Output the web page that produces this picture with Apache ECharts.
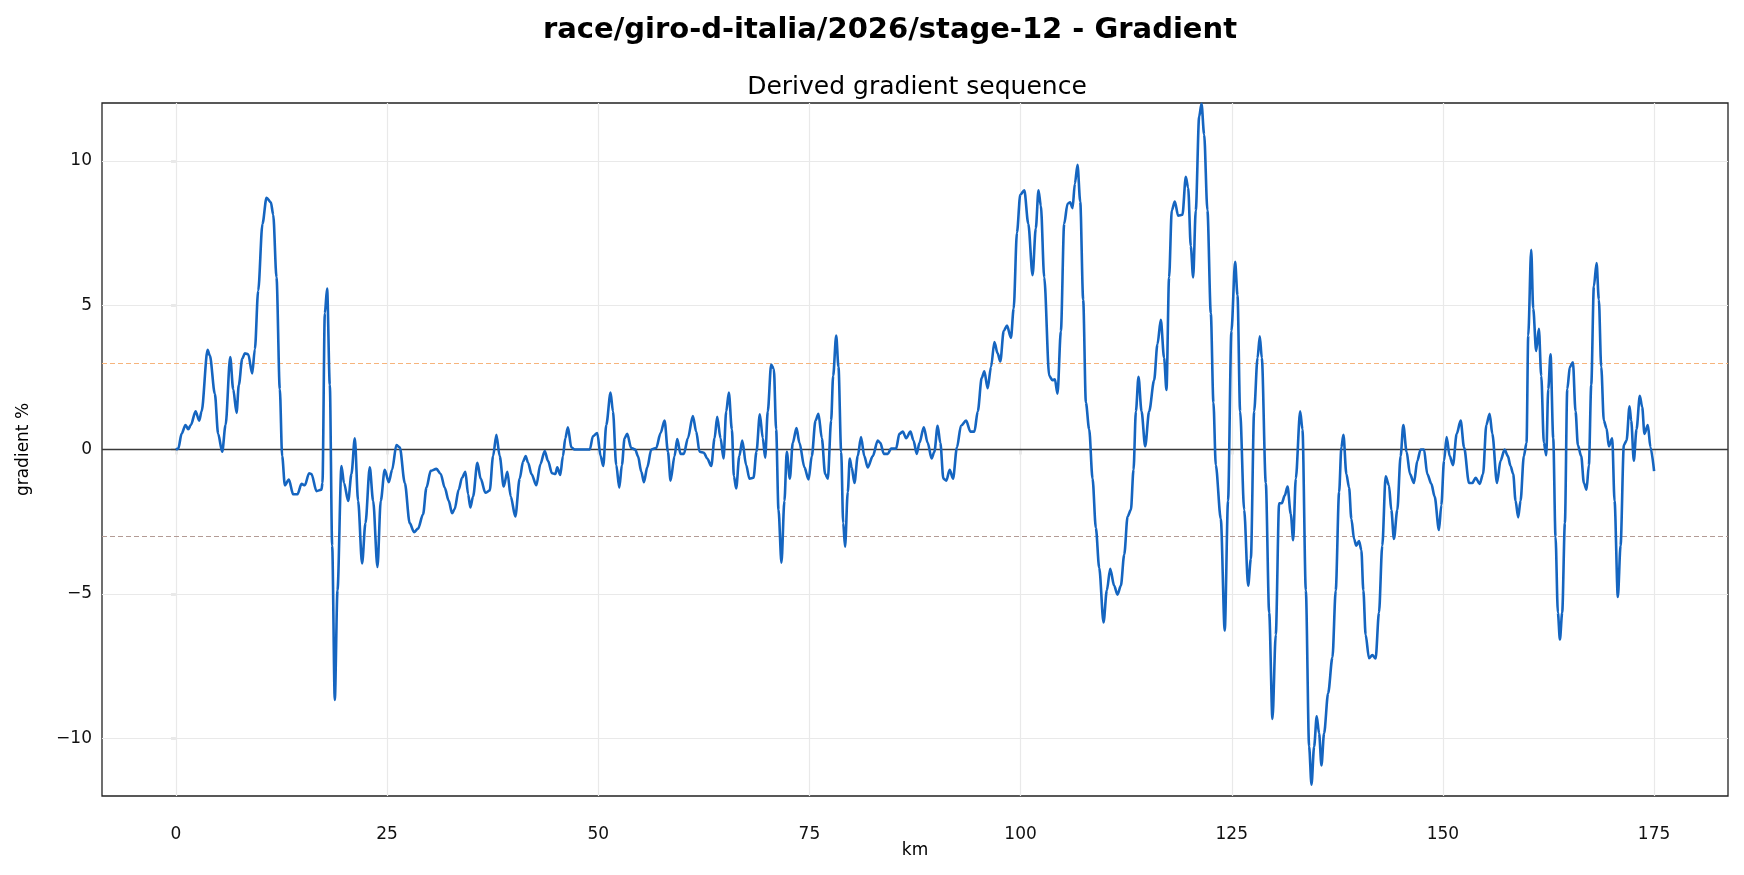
<!DOCTYPE html>
<html>
<head>
<meta charset="utf-8">
<script src="https://cdn.jsdelivr.net/npm/echarts/dist/echarts.min.js"></script>
<style>
	html, body { margin: 0; padding: 0; background: #fff; }
	#chart { width: 1744px; height: 875px; }
</style>
</head>
<body>
<div id="chart"></div>
<script>
var kmValues = [
	0, 0.28, 0.67, 1.14, 1.46, 1.77, 2.33, 2.76, 3.04, 3.75, 4.02, 4.61, 5.0, 5.48, 5.88, 6.43, 6.78, 7.18, 7.45, 7.85,
	8.16, 8.56, 9.03, 9.35, 9.74, 10.25, 10.73, 11.24, 11.52, 11.91, 12.30, 12.58, 12.90, 13.37, 13.88, 14.39, 14.87, 15.26, 15.77, 16.05,
	16.64, 17.23, 17.35, 17.63, 17.90, 18.22, 18.5, 18.81, 19.13, 19.6, 19.9, 20.4, 20.78, 21.18, 21.57, 22.04, 22.44, 22.95, 23.35, 23.86,
	24.25, 24.72, 25.2, 25.6, 26.1, 26.5, 27.1, 27.68, 28.19, 28.67, 29.26, 29.66, 30.17, 30.84, 31.35, 31.82, 32.3, 32.69, 33.0, 33.48,
	33.87, 34.27, 34.59, 34.86, 35.18, 35.69, 36.08, 36.64, 37.15, 37.55, 37.94, 38.33, 38.81, 39.24, 39.64, 40.18, 40.70, 41.1, 41.4, 41.7,
	42.1, 42.67, 43.15, 43.66, 44.05, 44.52, 44.92, 45.15, 45.5, 45.82, 46.1, 46.41, 46.81, 47.2, 49.0, 49.37, 49.88, 50.28, 50.59, 50.95,
	51.46, 51.74, 52.13, 52.49, 52.8, 53.12, 53.43, 53.9, 54.38, 54.7, 55.1, 55.41, 55.8, 56.28, 56.86, 57.38, 57.85, 58.25, 58.56, 59.03,
	59.35, 59.74, 60.14, 60.61, 61.2, 61.6, 61.99, 62.5, 62.9, 63.38, 63.77, 64.08, 64.48, 64.83, 65.15, 65.46, 65.82, 66.06, 66.33, 66.7,
	67.05, 67.51, 67.9, 68.38, 68.73, 69.13, 69.48, 69.76, 70.07, 70.47, 70.79, 71.06, 71.34, 71.69, 72.04, 72.32, 72.68, 73.03, 73.47, 73.82,
	74.41, 74.9, 75.28, 75.72, 76.07, 76.47, 76.86, 77.18, 77.57, 77.81, 78.17, 78.44, 78.76, 79.0, 79.22, 79.54, 79.78, 80.0, 80.33, 80.72,
	81.11, 81.5, 81.9, 82.5, 83.09, 83.4, 83.8, 84.28, 84.67, 85.26, 85.65, 86.05, 86.45, 86.96, 87.32, 87.71, 88.03, 88.54, 89.0, 89.47,
	89.79, 90.18, 90.5, 90.86, 91.21, 91.6, 92.0, 92.47, 92.94, 93.55, 94.06, 94.53, 94.93, 95.4, 95.71, 96.1, 96.5, 96.9, 97.28, 97.6,
	98.0, 98.39, 98.86, 99.18, 99.57, 99.96, 100.44, 100.91, 101.42, 101.8, 102.12, 102.4, 102.8, 103.39, 103.78, 104.06, 104.37, 104.77, 105.16, 105.56,
	105.87, 106.15, 106.43, 106.74, 107.06, 107.41, 107.73, 108.12, 108.52, 108.91, 109.31, 109.82, 110.21, 110.61, 111.08, 111.47, 111.87, 112.27, 112.67, 113.06,
	113.37, 113.65, 113.96, 114.32, 114.75, 115.22, 115.81, 116.2, 116.6, 116.99, 117.27, 117.58, 117.9, 118.26, 118.65, 119.16, 119.56, 119.84, 120.15, 120.43,
	120.74, 121.14, 121.42, 121.73, 122.12, 122.52, 122.83, 123.11, 123.7, 124.17, 124.56, 124.96, 125.4, 125.68, 125.99, 126.47, 126.94, 127.26, 127.65, 128.05,
	128.32, 128.56, 129.03, 129.43, 129.82, 130.21, 130.61, 130.92, 131.28, 131.6, 131.99, 132.27, 132.58, 133.1, 133.37, 133.77, 134.16, 134.44, 134.75, 135.06,
	135.34, 135.62, 135.93, 136.41, 136.92, 137.31, 137.71, 137.98, 138.22, 138.57, 138.89, 139.16, 139.48, 139.75, 140.07, 140.34, 140.58, 140.85, 141.25, 141.64,
	142.03, 142.43, 142.82, 143.22, 143.61, 143.89, 144.2, 144.6, 144.99, 145.31, 145.7, 146.1, 146.57, 146.97, 147.36, 147.76, 148.15, 148.63, 149.02, 149.53,
	149.81, 150.13, 150.44, 150.8, 151.19, 151.63, 152.1, 152.5, 153.09, 153.48, 153.88, 154.35, 154.75, 155.14, 155.53, 155.85, 156.4, 156.82, 157.3, 157.69,
	158.0, 158.32, 158.6, 158.91, 159.19, 159.58, 159.9, 160.1, 160.45, 160.69, 161.04, 161.36, 161.64, 161.95, 162.23, 162.47, 162.74, 163.06, 163.33, 163.61,
	163.85, 164.12, 164.44, 164.72, 165.03, 165.39, 165.7, 165.98, 166.37, 166.69, 167.0, 167.28, 167.56, 167.87, 168.19, 168.46, 168.74, 169.05, 169.37, 169.64,
	170.04, 170.32, 170.71, 171.03, 171.42, 171.74, 172.09, 172.29, 172.6, 172.92, 173.31, 173.59, 173.86, 174.26, 174.57, 175.0
];
var gradientValues = [
	0, 0.03, 0.54, 0.85, 0.70, 0.85, 1.32, 1.0, 1.32, 3.45, 3.25, 1.93, 0.54, -0.08, 0.85, 3.2, 2.09, 1.27, 2.24, 3.14,
	3.33, 3.30, 2.63, 3.48, 5.5, 7.82, 8.72, 8.56, 8.13, 5.96, 2.09, -0.23, -1.24, -1.04, -1.55, -1.55, -1.19, -1.24, -0.82, -0.85,
	-1.44, -1.39, -1.16, 4.72, 5.57, 2.24, -3.33, -8.67, -4.88, -0.57, -1.16, -1.78, -0.85, 0.39, -1.78, -3.95, -2.55, -0.62, -1.78, -4.07,
	-1.78, -0.70, -1.13, -0.70, 0.15, 0.08, -1.16, -2.55, -2.86, -2.74, -2.24, -1.32, -0.74, -0.67, -0.85, -1.32, -1.78, -2.21, -2.06, -1.39,
	-0.98, -0.77, -1.55, -2.01, -1.63, -0.46, -1.01, -1.50, -1.42, -0.23, 0.51, -0.23, -1.28, -0.77, -1.63, -2.32, -1.01, -0.42, -0.23, -0.46,
	-0.85, -1.24, -0.51, -0.05, -0.39, -0.82, -0.85, -0.62, -0.88, -0.23, 0.39, 0.77, 0.08, 0, 0, 0.46, 0.57, -0.23, -0.57, 0.85,
	1.97, 1.32, -0.54, -1.32, -0.54, 0.39, 0.54, 0.05, 0, -0.23, -0.77, -1.13, -0.62, 0, 0.05, 0.57, 1.0, -0.08, -1.08, -0.23,
	0.36, -0.15, -0.15, 0.39, 1.16, 0.62, -0.08, -0.11, -0.31, -0.57, 0.39, 1.13, 0.39, -0.31, 1.32, 1.97, 0.70, -0.93, -1.35, -0.23,
	0.31, -0.54, -1.01, -0.98, -0.08, 1.22, 0.39, -0.28, 1.32, 2.94, 2.79, 0.70, -2.09, -3.92, -1.78, -0.08, -1.01, 0.23, 0.74, 0.23,
	-0.62, -1.04, -0.23, 1.0, 1.24, 0.39, -0.85, -1.01, 1.0, 2.55, 3.95, 2.86, -0.08, -2.55, -3.37, -1.47, -0.31, -0.62, -1.16, -0.23,
	0.43, -0.23, -0.62, -0.23, 0.31, 0.23, -0.15, -0.15, 0.03, 0.03, 0.54, 0.62, 0.39, 0.62, 0.31, -0.15, 0.23, 0.77, 0.23, -0.31,
	-0.08, 0.82, 0.23, -1.01, -1.08, -0.70, -1.01, 0.08, 0.82, 1.0, 0.62, 0.62, 1.32, 2.48, 2.71, 2.12, 2.86, 3.72, 3.33, 3.05,
	4.10, 4.29, 3.87, 4.88, 7.51, 8.82, 8.98, 7.82, 6.04, 7.66, 8.98, 8.44, 5.96, 2.55, 2.40, 2.43, 1.93, 4.10, 7.82, 8.51,
	8.56, 8.36, 9.21, 9.86, 8.59, 5.19, 1.63, 0.70, -1.01, -2.71, -4.10, -5.99, -4.88, -4.13, -4.72, -5.03, -4.72, -3.64, -2.32, -2.09,
	-0.70, 1.32, 2.52, 1.32, 0.11, 1.32, 2.40, 3.64, 4.49, 3.17, 2.06, 5.96, 8.28, 8.59, 8.10, 8.13, 9.44, 9.06, 7.04, 5.96,
	8.28, 11.53, 11.97, 10.91, 8.28, 4.72, 1.63, -0.54, -2.4, -6.27, -1.78, 4.10, 6.50, 5.34, 1.32, -2.09, -4.72, -3.79, 1.32, 3.17,
	3.92, 3.17, -1.16, -5.65, -9.33, -6.42, -1.86, -1.86, -1.59, -1.28, -2.24, -3.14, -1.01, 1.32, 0.70, -4.88, -10.29, -11.61, -10.29, -9.24,
	-9.83, -10.94, -9.83, -8.44, -7.20, -4.88, -1.47, 0.08, 0.51, -0.85, -1.32, -2.40, -3.10, -3.33, -3.17, -3.48, -4.88, -6.42, -7.23, -7.12,
	-7.24, -5.65, -3.33, -0.93, -1.24, -2.09, -3.10, -2.09, -0.23, 0.85, -0.08, -0.85, -1.16, -0.39, 0, 0, -0.85, -1.19, -1.63, -2.79,
	-1.93, -0.39, 0.43, -0.23, -0.54, 0.54, 1.0, 0.08, -1.16, -1.16, -0.98, -1.19, -0.85, 0.85, 1.24, 0.54, -1.16, -0.39, 0, -0.23,
	-0.57, -0.85, -1.78, -2.35, -1.78, -0.23, 0.23, 3.95, 6.92, 4.88, 3.41, 4.18, 2.55, 0.23, -0.20, 2.09, 3.30, 0.39, -3.02, -5.65,
	-6.58, -5.65, -2.55, 2.09, 2.86, 3.02, 1.32, 0.15, -0.23, -1.16, -1.39, -0.54, 2.24, 5.65, 6.46, 5.19, 2.86, 1.0, 0.73, 0.11,
	0.39, -1.78, -5.11, -3.33, 0.15, 0.31, 1.50, 1.0, -0.39, 0.70, 1.86, 1.47, 0.54, 0.85, 0.08, -0.75
];
var xTicks = [0, 25, 50, 75, 100, 125, 150, 175];
var yTicks = [-10, -5, 0, 5, 10];
var refLevels = [3, 0, -3];

var chartTitle = 'race/giro-d-italia/2026/stage-12 - Gradient';
var subTitle = 'Derived gradient sequence';

var font = 'DejaVu Sans';
var points = kmValues.map(function (km, i) { return [km, gradientValues[i]]; });

var gridLines = xTicks.map(function (v) { return { xAxis: v }; })
	.concat(yTicks.filter(function (v) { return v !== 0; }).map(function (v) { return { yAxis: v }; }));

var refStyles = {
	'3': { color: '#f6b47c', width: 1.2, type: [5, 3] },
	'0': { color: '#3a3a3a', width: 1.3, type: 'solid' },
	'-3': { color: '#b39b95', width: 1.2, type: [5, 3] }
};
var refLines = refLevels.map(function (v) {
	return { yAxis: v, lineStyle: refStyles[String(v)] };
});

var chart = echarts.init(document.getElementById('chart'));
chart.setOption({
	animation: false,
	backgroundColor: '#fff',
	title: [{
		text: chartTitle,
		left: 885,
		top: 11,
		textAlign: 'center',
		textStyle: { fontFamily: font, fontWeight: 'bold', fontSize: 29, color: '#000' }
	}, {
		text: subTitle,
		left: 912,
		top: 70,
		textAlign: 'center',
		textStyle: { fontFamily: font, fontWeight: 'normal', fontSize: 25, color: '#000' }
	}],
	grid: {
		left: 102,
		right: 16,
		top: 103,
		bottom: 79,
		show: true,
		borderColor: '#222',
		borderWidth: 1.3,
		backgroundColor: 'transparent'
	},
	xAxis: {
		type: 'value',
		min: -8.75,
		max: 183.75,
		name: 'km',
		nameLocation: 'middle',
		nameGap: 46,
		nameMoveOverlap: false,
		nameTextStyle: { fontFamily: font, fontSize: 17, color: '#000' },
		axisLine: { show: false },
		splitLine: { show: false },
		axisTick: { show: true, length: 5, customValues: xTicks, lineStyle: { color: '#222', width: 1.2 } },
		axisLabel: { customValues: xTicks, fontFamily: font, fontSize: 17, color: '#111', margin: 30 }
	},
	yAxis: {
		type: 'value',
		min: -12,
		max: 12,
		name: 'gradient %',
		nameLocation: 'middle',
		nameGap: 70,
		nameMoveOverlap: false,
		nameTextStyle: { fontFamily: font, fontSize: 17, color: '#000' },
		axisLine: { show: false },
		splitLine: { show: false },
		axisTick: { show: true, length: 5, customValues: yTicks, lineStyle: { color: '#222', width: 1.2 } },
		axisLabel: {
			customValues: yTicks,
			fontFamily: font,
			fontSize: 17,
			color: '#111',
			margin: 10,
			formatter: function (v) { return v < 0 ? '\u2212' + Math.abs(v) : String(v); }
		}
	},
	series: [{
		name: 'grid',
		type: 'line',
		data: [],
		z: 1,
		silent: true,
		markLine: {
			silent: true,
			symbol: 'none',
			label: { show: false },
			lineStyle: { color: '#e9e9e9', width: 1.2, type: 'solid' },
			data: gridLines
		}
	}, {
		name: 'refs',
		type: 'line',
		data: [],
		z: 2,
		silent: true,
		markLine: {
			silent: true,
			symbol: 'none',
			label: { show: false },
			data: refLines
		}
	}, {
		name: 'gradient',
		type: 'line',
		data: points,
		z: 5,
		smooth: 0.3,
		smoothMonotone: 'x',
		showSymbol: false,
		symbol: 'none',
		lineStyle: { color: '#1565c0', width: 2.6 }
	}]
});
</script>
</body>
</html>
